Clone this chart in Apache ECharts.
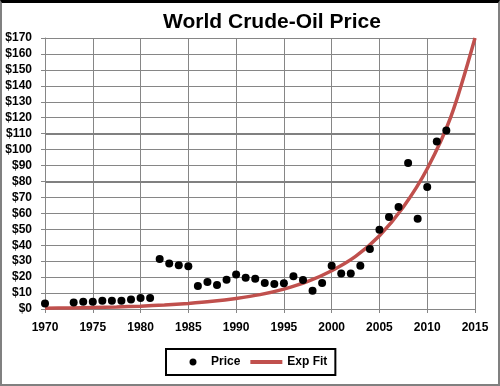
<!DOCTYPE html>
<html>
<head>
<meta charset="utf-8">
<script src="https://cdn.jsdelivr.net/npm/echarts@6/dist/echarts.min.js"></script>
<style>
html,body{margin:0;padding:0;background:#fff;}
#chart{position:absolute;left:0;top:0;width:500px;height:386px;}
#frame{position:absolute;left:0;top:0;width:500px;height:386px;box-sizing:border-box;
  border-top:3px solid #000;border-left:2px solid #808080;border-right:2px solid #808080;border-bottom:2px solid #808080;pointer-events:none;}
</style>
</head>
<body>
<div id="chart"></div>
<div id="frame"></div>
<script>
// Observed world crude-oil prices (year, $/barrel)
const years = [1970,1973,1974,1975,1976,1977,1978,1979,1980,1981,1982,1983,1984,1985,1986,1987,1988,1989,1990,1991,1992,1993,1994,1995,1996,1997,1998,1999,2000,2001,2002,2003,2004,2005,2006,2007,2008,2009,2010,2011,2012];
const prices = [3.5,4.0,4.6,4.6,5.2,5.2,5.2,6.0,6.9,6.9,31.4,28.6,27.4,26.8,14.4,16.9,15.1,18.4,21.7,19.6,19.0,16.3,15.7,16.1,20.5,18.2,11.5,16.3,27.2,22.3,22.3,27.2,37.6,49.7,57.7,64.0,91.6,56.6,76.5,105.1,112.0];
// Exponential trendline
const fitYears = [1970,1972.5,1975,1977.5,1980,1982.5,1985,1987.5,1990,1992.5,1995,1997.5,2000,2002.5,2005,2007.5,2010,2012.5,2015];
const fitValues = [0.5,0.7,1.0,1.3,1.8,2.5,3.5,4.8,6.6,9.0,12.5,17.3,24,33,46,64,88,121,170];
const title = 'World Crude-Oil Price';
const seriesNames = ['Price', 'Exp Fit'];

const font = '"Liberation Sans", Arial, sans-serif';
const chart = echarts.init(document.getElementById('chart'), null, {renderer:'canvas'});
const gridColor = '#868686';
const dotIcon = 'path://M0,4 L0.001,4 Z M32,4 L32.001,4 Z M19,0 L19.001,0 Z M19,8 L19.001,8 Z M15.5,4 A3.5,3.5 0 1,0 22.5,4 A3.5,3.5 0 1,0 15.5,4 Z';
const lineIcon = 'path://M0,0 L0.001,0 Z M0,8 L0.001,8 Z M0,2 L32,2 L32,6 L0,6 Z';
chart.setOption({
  animation: false,
  backgroundColor: '#fff',
  title: {
    text: title, left: 267, top: 7, textAlign: 'center',
    textStyle: {fontFamily: font, fontWeight: 'bold', fontSize: 21, color: '#000'}
  },
  grid: {left: 45, right: 25, top: 38, bottom: 77, containLabel: false},
  xAxis: {
    type: 'value', min: 1970, max: 2015, interval: 5,
    axisLine: {show: true, onZero: false, lineStyle: {color: gridColor, width: 1}},
    axisTick: {show: true, length: 4, lineStyle: {color: gridColor}},
    splitLine: {show: true, lineStyle: {color: gridColor, width: 1}},
    axisLabel: {margin: 13, fontFamily: font, fontWeight: 'bold', fontSize: 12, color: '#000',
      formatter: v => String(v)}
  },
  yAxis: {
    type: 'value', min: 0, max: 170, interval: 10,
    axisLine: {show: true, lineStyle: {color: gridColor, width: 1}},
    axisTick: {show: true, length: 4, lineStyle: {color: gridColor}},
    splitLine: {show: true, lineStyle: {color: gridColor, width: 1}},
    axisLabel: {margin: 13, fontFamily: font, fontWeight: 'bold', fontSize: 12, color: '#000',
      formatter: v => '$' + v}
  },
  legend: {
    left: 166, top: 349, orient: 'horizontal',
    padding: [7, 8, 7, 8], itemGap: 10, itemWidth: 32, itemHeight: 8,
    borderColor: '#000', borderWidth: 2, backgroundColor: '#fff',
    textStyle: {fontFamily: font, fontWeight: 'bold', fontSize: 12, color: '#000'},
    data: [{name: seriesNames[0], icon: dotIcon}, {name: seriesNames[1], icon: lineIcon}]
  },
  series: [
    {
      name: seriesNames[1], type: 'line', z: 2,
      data: fitYears.map((y, i) => [y, fitValues[i]]),
      smooth: 0.3, showSymbol: false, symbol: 'none',
      lineStyle: {color: '#C0504D', width: 3.5},
      itemStyle: {color: '#C0504D'}
    },
    {
      name: seriesNames[0], type: 'scatter', z: 3,
      data: years.map((y, i) => [y, prices[i]]),
      symbolSize: 8,
      itemStyle: {color: '#000', opacity: 1},
      markLine: {
        silent: true, symbol: 'none', label: {show: false}, z: 1,
        lineStyle: {color: '#808080', width: 2, type: 'solid'},
        data: [{yAxis: 80}, {yAxis: 110}]
      }
    }
  ]
});
</script>
</body>
</html>
